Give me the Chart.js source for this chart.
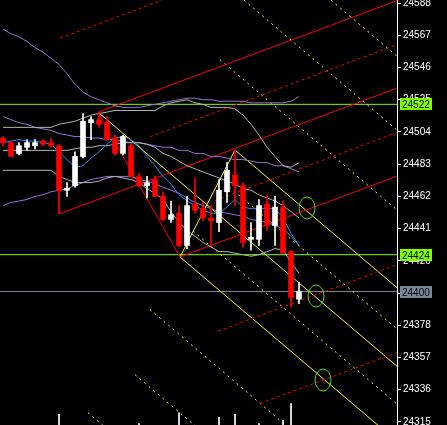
<!DOCTYPE html>
<html>
<head>
<meta charset="utf-8">
<script src="https://cdn.jsdelivr.net/npm/chart.js@4.4.1/dist/chart.umd.min.js"></script>
<style>
  html, body { margin: 0; padding: 0; background: #000; }
  canvas { display: block; }
</style>
</head>
<body>
<canvas id="chart" width="447" height="425"></canvas>
<script>
// candles (one per bar index 0..37)
const open  = [24500, 24497, 24490, 24494, 24495, 24498, 24497, 24495, 24466, 24469, 24488, 24510, 24512, 24510, 24500, 24490, 24495, 24475, 24469, 24473, 24462, 24447, 24451, 24430, 24457, 24454, 24448, 24445, 24465, 24476, 24469, 24434, 24434, 24457, 24443, 24455, 24426, 24395];
const high  = [24501, 24498, 24497, 24499, 24499, 24499, 24500, 24496, 24471, 24491, 24516, 24514, 24517, 24514, 24502, 24502, 24496, 24477, 24475, 24475, 24465, 24459, 24456, 24462, 24474, 24458, 24456, 24473, 24484, 24492, 24471, 24445, 24460, 24463, 24462, 24459, 24427, 24406];
const low   = [24495, 24488, 24489, 24492, 24493, 24495, 24494, 24465, 24462, 24468, 24487, 24499, 24507, 24499, 24489, 24489, 24475, 24468, 24461, 24462, 24446, 24445, 24429, 24428, 24451, 24446, 24430, 24439, 24458, 24456, 24429, 24427, 24430, 24440, 24430, 24425, 24390, 24392];
const close = [24497, 24488, 24495, 24497, 24497, 24496, 24495, 24466, 24467, 24488, 24511, 24512, 24509, 24499, 24490, 24501, 24475, 24469, 24471, 24462, 24447, 24450, 24430, 24456, 24453, 24448, 24446, 24466, 24479, 24469, 24432, 24435, 24456, 24443, 24455, 24425, 24396, 24400];

// indicators
const bbUpper = [24507, 24507, 24507, 24507, 24507, 24507, 24507, 24509, 24510, 24511, 24513, 24515, 24516, 24517, 24518, 24518, 24518, 24518, 24518, 24518, 24521, 24523, 24524, 24525, 24523, 24522, 24520, 24520, 24520, 24519, 24515, 24509, 24502, 24494, 24488, 24482, 24481, 24484];
const bbMid   = [24492, 24492, 24492, 24492, 24492, 24492, 24492, 24492, 24492, 24493, 24494, 24494, 24495, 24495, 24496, 24497, 24497, 24497, 24496, 24494, 24490, 24488, 24485, 24482, 24480, 24478, 24476, 24474, 24472, 24470, 24467, 24466, 24463, 24461, 24459, 24456, 24452, 24448];
const bbLower = [24479, 24479, 24479, 24479, 24479, 24479, 24479, 24475, 24473, 24471, 24471, 24471, 24472, 24474, 24475, 24474, 24473, 24471, 24467, 24464, 24460, 24452, 24445, 24440, 24436, 24432, 24429, 24426, 24426, 24425, 24424, 24423, 24424, 24426, 24428, 24427, 24419, 24412];
const envUpper = [24571, 24568, 24566, 24563, 24559, 24556, 24552, 24548, 24542, 24535, 24530, 24527, 24525, 24523, 24521, 24520, 24520, 24520, 24521, 24522, 24523, 24524, 24525, 24526, 24526, 24525, 24525, 24524, 24524, 24524, 24524, 24523, 24523, 24523, 24523, 24523, 24524, 24527];
const envMid   = [24514, 24512, 24510, 24509, 24507, 24506, 24505, 24503, 24502, 24501, 24501, 24500, 24500, 24499, 24499, 24498, 24497, 24497, 24496, 24495, 24494, 24494, 24492, 24492, 24490, 24490, 24488, 24488, 24487, 24486, 24486, 24485, 24484, 24484, 24482, 24482, 24480, 24478];
const envLower = [24456, 24458, 24459, 24460, 24462, 24463, 24465, 24466, 24467, 24469, 24471, 24473, 24474, 24475, 24475, 24475, 24475, 24473, 24472, 24470, 24468, 24466, 24464, 24461, 24458, 24456, 24454, 24452, 24451, 24450, 24449, 24447, 24446, 24445, 24443, 24441, 24436, 24430];
const fastMa   = [24497, 24498, 24499, 24498, 24498, 24497, 24496, 24491, 24486, 24481, 24482, 24487, 24491, 24496, 24500, 24501, 24499, 24495, 24488, 24482, 24475, 24470, 24463, 24459, 24456, 24453, 24451, 24451, 24455, 24460, 24455, 24454, 24454, 24454, 24454, 24448, 24438, 24430];

// small bars at the bottom
const volIdx = [7, 17, 22, 27, 29, 32, 35, 36];
const volTop = [24320, 24314, 24321, 24318, 24320, 24314, 24316, 24327];

// red pitchfork  [barIndex, price]
const redUpper  = [[11.875, 24516.9], [49.25, 24589.6]];
const redMedian = [[7, 24450.5], [49.25, 24532.6]];
const redLower  = [[22.125, 24422.5], [49.25, 24475.2]];
const redHandle = [[11.875, 24516.9], [22.125, 24422.5]];
const redStem   = [[7, 24464.8], [7, 24450.5]];
const redWarn = [
  [[7.125, 24565.1], [19.875, 24589.9]],
  [[18.375, 24500.9], [49.25, 24560.9]],
  [[26.5, 24459.3], [49.25, 24503.6]],
  [[26.875, 24374.1], [49.25, 24417.6]],
  [[32.125, 24327.0], [49.25, 24360.2]]
];

// yellow pitchfork
const yelMedian = [[11.875, 24516.9], [49.25, 24351.3]];
const yelUpper  = [[29, 24492.2], [49.25, 24402.5]];
const yelLower  = [[22.125, 24422.5], [49.25, 24302.3]];
const yelHandle = [[22.125, 24422.5], [29, 24492.2]];
const yelWarn = [
  [[27.125, 24473.3], [49.25, 24375.6]],
  [[23.75, 24439.4], [49.25, 24326.7]],
  [[27.125, 24551.1], [49.25, 24453.1]],
  [[30.125, 24589.9], [49.25, 24505.2]],
  [[41, 24589.9], [49.25, 24553.4]],
  [[18.375, 24388.3], [37.125, 24304.9]],
  [[16.5, 24345.8], [24.625, 24309.8]],
  [[10.625, 24321.0], [12.75, 24311.6]]
];

const markers = [[38, 24454.4], [39.125, 24397.1], [40, 24342.3]];

const levels = [24522, 24424, 24400];
const levelColors = ['#80ff00', '#80ff00', '#778899'];

const yTicks = [24315, 24336, 24357, 24378, 24399, 24420, 24441, 24462, 24483, 24504, 24525, 24546, 24567, 24588];

const RED = '#ff0000';
const YEL = '#ffff00';

const seg = (pts) => pts.map(([x, y]) => ({ x, y }));
const series = (arr) => arr.map((y, i) => ({ x: i, y }));
const candleColor = close.map((c, i) => (c < open[i] ? RED : '#ffffff'));

function lineSet(data, color, dash, order) {
  return {
    type: 'line', data, borderColor: color, borderWidth: 1, borderDash: dash || [],
    pointRadius: 0, fill: false, tension: 0, order: order || 2
  };
}

// ellipse used for the green markers
const ring = document.createElement('canvas');
ring.width = 18; ring.height = 24;
const rctx = ring.getContext('2d');
rctx.strokeStyle = '#66dd00';
rctx.lineWidth = 1;
rctx.beginPath();
rctx.ellipse(9, 12, 8, 11, 0, 0, Math.PI * 2);
rctx.stroke();

const datasets = [
  {
    type: 'bar', data: low.map((l, i) => ({ x: i, y: [l, high[i]] })),
    backgroundColor: candleColor, barThickness: 1, grouped: false, order: 0
  },
  {
    type: 'bar', data: open.map((o, i) => ({ x: i, y: [o, close[i]] })),
    backgroundColor: candleColor, barThickness: 5, minBarLength: 2, grouped: false, order: 0
  },
  {
    type: 'bar', data: volIdx.map((k, i) => ({ x: k, y: [24300, volTop[i]] })),
    backgroundColor: '#ffffff', barThickness: 1, grouped: false, order: 0
  },
  lineSet(series(bbUpper), '#b4b4b4'),
  lineSet(series(bbMid), '#b4b4b4'),
  lineSet(series(bbLower), '#b4b4b4'),
  lineSet(series(envUpper), '#9370db'),
  lineSet(series(envMid), '#9370db'),
  lineSet(series(envLower), '#9370db'),
  lineSet(series(fastMa), '#1e90ff', null, 1),
  lineSet(seg(redUpper), RED),
  lineSet(seg(redMedian), RED),
  lineSet(seg(redLower), RED),
  lineSet(seg(redHandle), RED),
  lineSet(seg(redStem), RED),
  ...redWarn.map((w) => lineSet(seg(w), RED, [3, 3])),
  lineSet(seg(yelMedian), YEL),
  lineSet(seg(yelUpper), YEL),
  lineSet(seg(yelLower), YEL),
  lineSet(seg(yelHandle), YEL),
  ...yelWarn.map((w) => lineSet(seg(w), YEL, [2, 4])),
  ...levels.map((v, i) => lineSet([{ x: -1, y: v }, { x: 52, y: v }], levelColors[i], null, 3)),
  {
    type: 'line', data: seg(markers), showLine: false, pointStyle: ring,
    pointRadius: 10, order: 1
  }
];

// price boxes on the axis
const priceBoxes = {
  id: 'priceBoxes',
  afterDraw(chart) {
    const { ctx } = chart;
    const y = chart.scales.y;
    ctx.save();
    ctx.font = '10px "Liberation Sans", Arial, sans-serif';
    ctx.textBaseline = 'middle';
    levels.forEach((v, i) => {
      const py = Math.round(y.getPixelForValue(v));
      ctx.fillStyle = levelColors[i];
      ctx.fillRect(400, py - 6, 32, 12);
      ctx.fillStyle = '#000';
      ctx.fillText(String(v), 402, py + 1);
    });
    ctx.restore();
  }
};

new Chart(document.getElementById('chart'), {
  type: 'bar',
  data: { datasets },
  plugins: [priceBoxes],
  options: {
    responsive: false,
    animation: false,
    layout: { padding: 0, autoPadding: false },
    plugins: { legend: { display: false }, tooltip: { enabled: false } },
    scales: {
      x: { type: 'linear', display: false, min: -0.375, max: 49.25, offset: false },
      y: {
        position: 'right',
        min: 24313,
        max: 24590,
        afterBuildTicks: (scale) => { scale.ticks = yTicks.map((v) => ({ value: v })); },
        afterFit: (scale) => { scale.width = 50; scale.paddingTop = 0; scale.paddingBottom = 0; },
        border: { color: '#ffffff', width: 1 },
        grid: { drawOnChartArea: false, color: '#ffffff', tickLength: 4 },
        ticks: {
          color: '#ffffff', padding: 2,
          font: { family: 'Liberation Sans', size: 10 },
          callback: (v) => String(v)
        }
      }
    }
  }
});
</script>
</body>
</html>
